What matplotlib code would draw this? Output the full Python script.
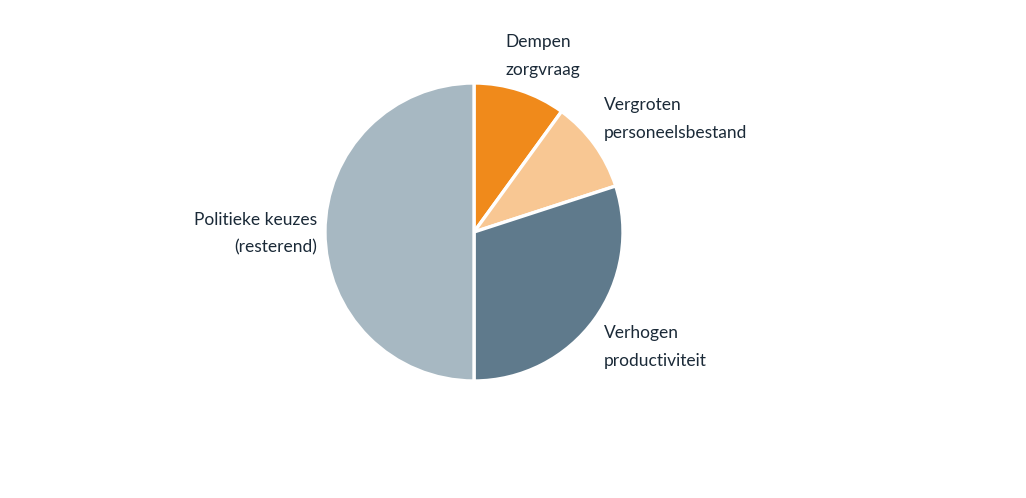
import matplotlib.pyplot as plt

labels = ["Dempen\nzorgvraag", "Vergroten\npersoneelsbestand",
          "Verhogen\nproductiviteit", "Politieke keuzes\n(resterend)"]
shares = [10, 10, 30, 50]
colors = ["#F08A1B", "#F8C793", "#5F7A8C", "#A7B8C2"]

# label anchor positions in pie units (radius = 1)
label_pos = [(0.21, 1.18, "left"), (0.87, 0.76, "left"),
             (0.87, -0.77, "left"), (-1.05, -0.01, "right")]

fig = plt.figure(figsize=(10.26, 4.98), dpi=100)
W, H = 1026, 498
cx, cy, r = 474, 232, 149
ax = fig.add_axes([(cx - r) / W, (H - cy - r) / H, 2 * r / W, 2 * r / H])

ax.pie(shares, colors=colors, startangle=90, counterclock=False, radius=1,
       wedgeprops=dict(edgecolor="white", linewidth=2.4))

for lab, (x, y, ha) in zip(labels, label_pos):
    ax.text(x, y, lab, ha=ha, va="center", fontsize=12.5, family="Lato",
            color="#1B2A38", linespacing=1.9, multialignment=ha)

ax.set_xlim(-1, 1)
ax.set_ylim(-1, 1)
ax.set_aspect("equal")
ax.axis("off")

fig.savefig("out.png", dpi=100)
